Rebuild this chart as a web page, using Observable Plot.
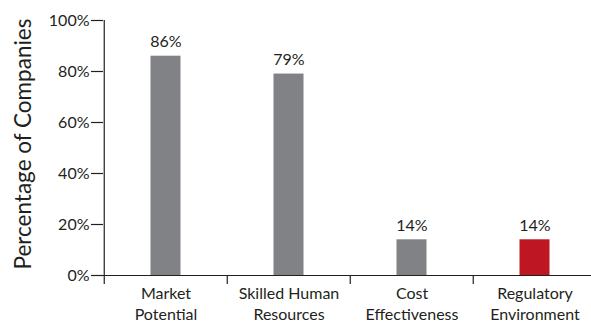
<!DOCTYPE html>
<html>
<head>
<meta charset="utf-8">
<script src="https://cdn.jsdelivr.net/npm/d3@7"></script>
<script src="https://cdn.jsdelivr.net/npm/@observablehq/plot@0.6"></script>
<style>
  html, body { margin: 0; padding: 0; background: #fff; }
  #chart { width: 591px; height: 325px; }
</style>
</head>
<body>
<div id="chart"></div>
<script>
const categories = ["Market Potential", "Skilled Human Resources", "Cost Effectiveness", "Regulatory Environment"];
const categoryLabels = ["Market\nPotential", "Skilled Human\nResources", "Cost\nEffectiveness", "Regulatory\nEnvironment"];
const values = [86, 79, 14, 14];
const valueLabels = ["86%", "79%", "14%", "14%"];
const highlighted = [false, false, false, true];
const yTicks = [0, 20, 40, 60, 80, 100];
const yTickLabels = ["0%", "20%", "40%", "60%", "80%", "100%"];
const yLabel = "Percentage of Companies";

const data = categories.map((c, i) => ({
  category: c,
  label: categoryLabels[i],
  value: values[i],
  valueLabel: valueLabels[i],
  highlight: highlighted[i]
}));

const W = 591, H = 325;
const mLeft = 103, mRight = -6, mTop = 20, mBottom = 50;
const bandW = (W - mLeft - mRight) / categories.length;
const font = "Lato, 'Open Sans', sans-serif";
const textColor = "#231f20";
const lineColor = "#231f20";

const chart = Plot.plot({
  width: W,
  height: H,
  marginLeft: mLeft,
  marginRight: mRight,
  marginTop: mTop,
  marginBottom: mBottom,
  style: { fontFamily: font, color: textColor, background: "#fff", overflow: "visible" },
  x: { domain: categories, padding: 0, axis: null },
  y: { domain: [0, 100], axis: null },
  marks: [
    Plot.barY(data, {
      x: "category", y: "value",
      fill: d => d.highlight ? "#be1622" : "#808285",
      insetLeft: 46.5, insetRight: 46.5
    }),
    Plot.text(data, {
      x: "category", y: "value", text: "valueLabel",
      dy: -14, fontSize: 16, fill: textColor
    }),
    Plot.text(data, {
      x: "category", y: d => 0, text: "label",
      lineAnchor: "top", dy: 8, fontSize: 16, lineHeight: 1.32, fill: textColor
    }),
    // y axis ticks and labels
    Plot.axisY({
      ticks: yTicks, tickFormat: d => yTickLabels[yTicks.indexOf(d)],
      tickSize: 12, tickPadding: 2, fontSize: 16, stroke: lineColor, strokeWidth: 1.2,
      label: null, color: textColor
    }),
    Plot.ruleY([0], { stroke: lineColor, strokeWidth: 1.2 }),
    // y axis line (from first band edge) and category separators
    Plot.ruleX(categories, {
      x: d => d, dx: -bandW / 2,
      y1: (d, i) => i === 0 ? 100 : 0, y2: 0, insetBottom: -9,
      stroke: lineColor, strokeWidth: 1.2
    }),
    Plot.text([yLabel], {
      frameAnchor: "left", textAnchor: "middle", rotate: -90, dx: -80, dy: -4,
      fontSize: 22.5, fill: textColor
    })
  ]
});

document.getElementById("chart").appendChild(chart);
</script>
</body>
</html>
